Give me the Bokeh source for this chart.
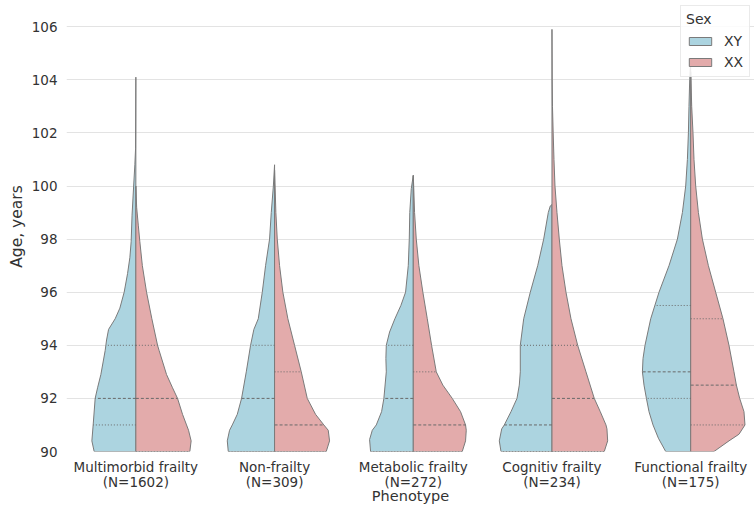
import numpy as np
from bokeh.plotting import figure
from bokeh.models import Range1d, FixedTicker, Legend, LegendItem
from bokeh.embed import file_html
from bokeh.resources import INLINE

PHENOTYPES = ["Multimorbid frailty", "Non-frailty", "Metabolic frailty", "Cognitiv frailty", "Functional frailty"]
COUNTS = [1602, 309, 272, 234, 175]
SEXES = ["XY", "XX"]
Y_TICKS = [90, 92, 94, 96, 98, 100, 102, 104, 106]

# density profiles: ages and relative half-widths
MM_XY_AGE = [90.0, 90.4, 91.0, 92.0, 92.4, 92.9, 93.8, 94.2, 94.6, 95.0, 95.4, 96.0, 96.7, 97.3, 97.9, 98.9, 100.0, 100.8, 101.4, 104.1]
MM_XY_DEN = [41.7, 44.0, 42.7, 40.7, 38.3, 35.0, 30.7, 29.3, 27.3, 20.7, 16.0, 11.7, 8.3, 6.0, 4.7, 3.8, 2.2, 1.0, 0.3, 0.0]
MM_XX_AGE = [90.0, 90.4, 90.8, 91.0, 91.4, 92.0, 92.4, 92.9, 93.8, 94.0, 95.0, 96.0, 97.0, 97.9, 98.5, 99.2, 100.0]
MM_XX_DEN = [54.0, 55.3, 52.7, 50.7, 46.7, 41.7, 36.7, 30.7, 23.3, 21.7, 16.0, 10.7, 6.5, 4.0, 2.5, 0.8, 0.0]

NF_XY_AGE = [90.0, 90.4, 90.8, 91.0, 91.4, 92.0, 93.0, 94.0, 94.6, 95.0, 96.0, 97.0, 98.0, 99.0, 100.0, 100.8]
NF_XY_DEN = [46.3, 47.3, 45.0, 42.3, 37.3, 33.0, 28.3, 24.0, 20.7, 16.3, 12.3, 9.0, 5.0, 3.3, 1.2, 0.0]
NF_XX_AGE = [90.0, 90.4, 90.8, 91.0, 91.4, 92.0, 93.0, 94.0, 95.0, 96.0, 97.0, 98.0, 99.0, 100.0, 100.6]
NF_XX_DEN = [51.7, 55.0, 53.7, 49.3, 41.0, 32.7, 26.7, 20.0, 13.3, 8.3, 5.0, 2.7, 1.3, 0.5, 0.0]

MET_XY_AGE = [90.0, 90.45, 90.8, 91.0, 91.5, 92.0, 93.0, 93.5, 94.0, 94.5, 95.0, 95.5, 96.0, 97.0, 98.0, 99.0, 99.9, 100.4]
MET_XY_DEN = [42.7, 43.7, 41.0, 37.0, 31.7, 29.4, 27.0, 27.4, 27.0, 23.7, 18.4, 12.4, 7.7, 5.0, 4.0, 3.5, 2.0, 0.0]
MET_XX_AGE = [90.0, 90.4, 90.8, 91.0, 91.5, 92.0, 92.5, 93.0, 94.0, 95.0, 96.0, 97.0, 98.0, 99.0, 100.0, 100.4]
MET_XX_DEN = [49.0, 52.3, 53.0, 52.3, 47.3, 39.0, 29.6, 23.0, 18.3, 14.0, 9.6, 5.6, 3.0, 1.3, 0.4, 0.0]

COG_XY_AGE = [90.0, 90.4, 90.85, 91.0, 91.5, 92.0, 92.5, 93.0, 94.0, 95.0, 96.0, 97.0, 98.0, 99.0, 99.25, 99.3]
COG_XY_DEN = [51.0, 52.7, 50.3, 47.7, 41.0, 35.0, 32.7, 31.7, 31.7, 28.3, 21.7, 14.3, 8.3, 3.7, 1.7, 0.0]
COG_XX_AGE = [90.0, 90.4, 90.85, 91.0, 91.5, 92.0, 93.0, 94.0, 95.0, 96.0, 97.0, 98.0, 99.0, 100.0, 101.0, 102.0, 103.0, 104.0, 105.9]
COG_XX_DEN = [52.3, 55.7, 55.0, 54.0, 48.3, 42.3, 34.0, 25.7, 19.0, 14.0, 10.0, 7.3, 5.0, 3.0, 2.0, 1.2, 0.5, 0.2, 0.0]

FUN_XY_AGE = [90.0, 90.5, 91.0, 91.5, 92.0, 92.5, 93.0, 93.5, 94.0, 95.0, 96.0, 97.0, 98.0, 99.0, 100.0, 101.0, 102.0, 103.0, 104.0, 104.8]
FUN_XY_DEN = [25.0, 32.3, 37.7, 41.7, 44.3, 46.7, 48.3, 47.7, 45.7, 40.0, 31.7, 21.7, 13.3, 8.3, 5.0, 3.3, 2.3, 1.7, 1.0, 0.0]
FUN_XX_AGE = [90.0, 90.4, 90.65, 91.0, 91.5, 92.0, 92.5, 93.0, 94.0, 95.0, 96.0, 97.0, 98.0, 99.0, 100.0, 101.0, 102.0, 103.0, 104.0, 104.3]
FUN_XX_DEN = [23.3, 38.3, 48.3, 54.3, 53.3, 49.0, 45.7, 43.3, 38.3, 32.3, 25.0, 17.7, 11.7, 7.7, 5.0, 3.3, 2.3, 1.0, 0.3, 0.0]

# quartiles (Q1, median, Q3) per phenotype
Q_XY = [[91, 92, 94], [90, 92, 94], [90, 92, 94], [90, 91, 94], [92, 93, 95.5]]
Q_XX = [[90, 92, 94], [90, 91, 93], [90, 91, 93], [90, 92, 94], [91, 92.5, 95]]

PROFILES_XY = [(MM_XY_AGE, MM_XY_DEN), (NF_XY_AGE, NF_XY_DEN), (MET_XY_AGE, MET_XY_DEN),
               (COG_XY_AGE, COG_XY_DEN), (FUN_XY_AGE, FUN_XY_DEN)]
PROFILES_XX = [(MM_XX_AGE, MM_XX_DEN), (NF_XX_AGE, NF_XX_DEN), (MET_XX_AGE, MET_XX_DEN),
               (COG_XX_AGE, COG_XX_DEN), (FUN_XX_AGE, FUN_XX_DEN)]

COL_XY = "#acd4e0"
COL_XX = "#e3abab"
EDGE = "#7a7a7a"
TXT = "#333333"
FONT = "DejaVu Sans"
DSCALE = 1.0 / 138.75  # density units -> category units

p = figure(width=754, height=507, x_range=Range1d(-0.5, 4.46), y_range=Range1d(90, 106.95),
           output_backend="svg", toolbar_location=None,
           min_border_left=66, min_border_right=0, min_border_top=1, min_border_bottom=56)
p.outline_line_color = None
p.background_fill_color = "white"
p.border_fill_color = "white"

def half(i, ages, dens, side):
    a = np.asarray(ages, float)
    d = np.asarray(dens, float) * DSCALE
    xs = list(i + side * d) + [i, i]
    ys = list(a) + [a[-1], a[0]]
    return xs, ys

xs_xy, ys_xy, xs_xx, ys_xx = [], [], [], []
for i in range(len(PHENOTYPES)):
    x, y = half(i, *PROFILES_XY[i], -1)
    xs_xy.append(x); ys_xy.append(y)
    x, y = half(i, *PROFILES_XX[i], 1)
    xs_xx.append(x); ys_xx.append(y)

r_xy = p.patches(xs_xy, ys_xy, fill_color=COL_XY, line_color=EDGE, line_width=1)
r_xx = p.patches(xs_xx, ys_xx, fill_color=COL_XX, line_color=EDGE, line_width=1)

# quartile lines
for i in range(len(PHENOTYPES)):
    for side, qs, prof in ((-1, Q_XY[i], PROFILES_XY[i]), (1, Q_XX[i], PROFILES_XX[i])):
        for k, q in enumerate(qs):
            w = np.interp(q, prof[0], prof[1]) * DSCALE
            dash = "3 2" if k == 1 else "1 2"
            p.line([i, i + side * w], [q, q], line_color="#6a6a6a", line_width=1, line_dash=dash)

# axes
p.yaxis.ticker = FixedTicker(ticks=Y_TICKS)
p.xaxis.ticker = FixedTicker(ticks=list(range(len(PHENOTYPES))))
p.xaxis.major_label_overrides = {i: f"{PHENOTYPES[i]}\n(N={COUNTS[i]})" for i in range(len(PHENOTYPES))}
for ax in (p.xaxis[0], p.yaxis[0]):
    ax.axis_line_color = None
    ax.major_tick_line_color = None
    ax.minor_tick_line_color = None
    ax.major_tick_out = 0
    ax.major_tick_in = 0
    ax.major_label_text_font = FONT
    ax.major_label_text_color = TXT
    ax.major_label_text_font_size = "13.5px"
    ax.axis_label_text_font = FONT
    ax.axis_label_text_font_style = "normal"
    ax.axis_label_text_color = TXT

p.yaxis.axis_label = "Age, years"
p.yaxis.axis_label_text_font_size = "15.5px"
p.yaxis.major_label_standoff = 9
p.yaxis.axis_label_standoff = 3

p.xaxis.axis_label = "Phenotype"
p.xaxis.axis_label_text_font_size = "14.5px"
p.xaxis.major_label_standoff = 7
p.xaxis.major_label_text_line_height = 0.95
p.xaxis.axis_label_standoff = -5
p.xaxis.axis_label_text_line_height = 1.0

p.xgrid.grid_line_color = None
p.ygrid.grid_line_color = "#e3e3e3"
p.ygrid.grid_line_width = 1

legend = Legend(items=[LegendItem(label=SEXES[0], renderers=[r_xy]),
                       LegendItem(label=SEXES[1], renderers=[r_xx])],
                title="Sex", location="top_right")
legend.margin = 4
legend.padding = 5
legend.spacing = 2
legend.glyph_width = 28
legend.glyph_height = 10
legend.label_height = 19
legend.label_standoff = 10
legend.label_text_font = FONT
legend.label_text_font_size = "14px"
legend.label_text_color = TXT
legend.title_text_font = FONT
legend.title_text_font_size = "14px"
legend.title_text_font_style = "normal"
legend.title_text_color = TXT
legend.title_standoff = 4
legend.border_line_color = "#d6d6d6"
legend.background_fill_alpha = 0.85
p.add_layout(legend)

open("out.html", "w").write(file_html(p, INLINE))
